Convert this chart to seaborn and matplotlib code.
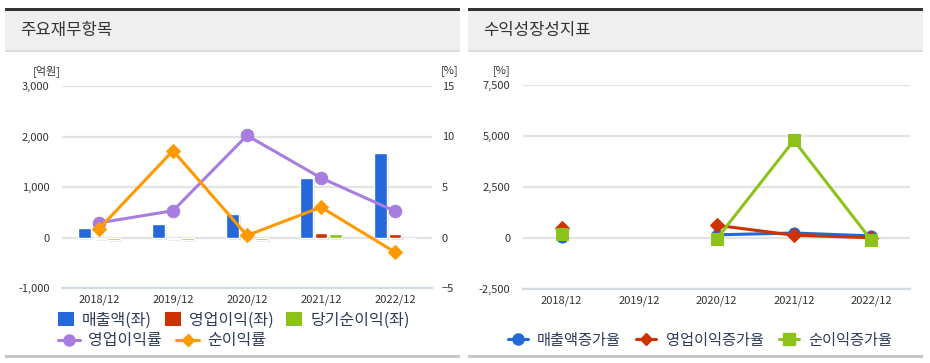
import numpy as np
import pandas as pd
import matplotlib
matplotlib.use("Agg")
import matplotlib.pyplot as plt
import seaborn as sns
from matplotlib.patches import Rectangle
from matplotlib.lines import Line2D
from matplotlib import patheffects as pe
from matplotlib.ticker import FuncFormatter, FixedLocator

# ---------------- data ----------------
periods = ["2018/12", "2019/12", "2020/12", "2021/12", "2022/12"]

bar_items = ["매출액(좌)", "영업이익(좌)", "당기순이익(좌)"]
revenue = [190, 270, 470, 1180, 1680]
op_income = [-35, -30, 60, 90, 60]
net_income = [-40, -40, -40, 60, 0]

line_items = ["영업이익률", "순이익률"]
op_margin = [1.45, 2.65, 10.1, 5.9, 2.6]
net_margin = [0.85, 8.6, 0.2, 3.0, -1.45]

growth_items = ["매출액증가율", "영업이익증가율", "순이익증가율"]
rev_growth = [30, np.nan, 130, 220, 80]
op_growth = [470, np.nan, 600, 110, -10]
net_growth = [190, np.nan, -80, 4760, -130]

left_ticks = [-1000, 0, 1000, 2000, 3000]
right_ticks = [-5, 0, 5, 10, 15]
growth_ticks = [-2500, 0, 2500, 5000, 7500]

# ---------------- style ----------------
sns.set_theme(style="white")
plt.rcParams["font.family"] = ["Noto Sans CJK KR", "DejaVu Sans"]

bar_colors = ["#2468d9", "#cc3300", "#8cc21a"]
line_colors = ["#a87de0", "#ff9900"]
growth_colors = ["#2468d9", "#cc3300", "#8cc21a"]
txt = "#333333"
legend_txt = "#2e3b5a"
grid_c = "#e3e3e3"
axis_c = "#d3dbe3"

W, H = 930, 363
fig = plt.figure(figsize=(W / 100, H / 100), dpi=100)

def fx(px):
    return px / W

def fy(py):
    return 1 - py / H

def rect(x0, y0, x1, y1, color):
    fig.add_artist(Rectangle((fx(x0), fy(y1)), fx(x1) - fx(x0), fy(y0) - fy(y1),
                             transform=fig.transFigure, facecolor=color,
                             edgecolor="none", zorder=0))

# panel headers
for (x0, x1, title) in [(5, 460, "주요재무항목"), (468, 923, "수익성장성지표")]:
    rect(x0, 11, x1, 50, "#efefef")
    rect(x0, 8, x1, 11, "#333333")
    rect(x0, 50, x1, 51.5, "#dcdcdc")
    rect(x0, 355, x1, 357.5, "#c6c6c6")
    fig.text(fx(x0 + 15), fy(31), title, fontsize=12, color=txt, va="center", ha="left")


def style_axis(ax):
    for s in ["top", "left", "right"]:
        ax.spines[s].set_visible(False)
    ax.spines["bottom"].set_color(axis_c)
    ax.spines["bottom"].set_linewidth(1.6)
    ax.set_xlim(-0.5, 4.5)
    ax.xaxis.set_major_locator(FixedLocator(range(5)))
    ax.set_xticklabels(periods)
    ax.xaxis.set_minor_locator(FixedLocator(np.arange(-0.5, 5.0, 1.0)))
    ax.tick_params(axis="x", which="major", length=0, pad=5, labelsize=8, labelcolor=txt)
    ax.tick_params(axis="x", which="minor", length=5, width=1.4, color=axis_c, direction="out")
    ax.grid(axis="y", color=grid_c, linewidth=1.6)
    ax.grid(axis="x", visible=False)
    ax.set_axisbelow(True)
    ax.set_xlabel("")
    ax.set_ylabel("")


# ---------------- left chart ----------------
ax = fig.add_axes([fx(62), fy(288), fx(432) - fx(62), fy(86) - fy(288)])
dfb = pd.DataFrame({
    "period": periods * 3,
    "item": sum([[it] * 5 for it in bar_items], []),
    "value": revenue + op_income + net_income,
})
sns.barplot(data=dfb, x="period", y="value", hue="item", order=periods,
            hue_order=bar_items, palette=bar_colors, saturation=1,
            width=0.58, gap=0.1, ax=ax, legend=False, errorbar=None)
for p in ax.patches:
    p.set_path_effects([pe.SimplePatchShadow(offset=(1.5, -1.5), shadow_rgbFace="#999999", alpha=0.22),
                        pe.Normal()])
ax.set_ylim(-1000, 3000)
ax.yaxis.set_major_locator(FixedLocator(left_ticks))
ax.yaxis.set_major_formatter(FuncFormatter(lambda v, p: f"{int(v):,}"))
ax.tick_params(axis="y", length=0, pad=9, labelsize=8, labelcolor=txt)
style_axis(ax)

ax2 = ax.twinx()
xs = np.arange(5)
dfl = pd.DataFrame({"x": list(xs) * 2,
                    "item": sum([[it] * 5 for it in line_items], []),
                    "value": op_margin + net_margin})
for it, col, mk, ms in zip(line_items, line_colors, ["o", "D"], [9, 7]):
    sns.lineplot(data=dfl[dfl["item"] == it], x="x", y="value", color=col,
                 marker=mk, markersize=ms, markeredgecolor=col, linewidth=2.2,
                 ax=ax2, legend=False, estimator=None)
ax2.set_ylim(-5, 15)
ax2.yaxis.set_major_locator(FixedLocator(right_ticks))
ax2.tick_params(axis="y", length=0, pad=7, labelsize=8, labelcolor=txt)
for s in ["top", "left", "right", "bottom"]:
    ax2.spines[s].set_visible(False)
ax2.set_ylabel("")
ax2.set_xlabel("")
ax2.grid(False)
ax2.set_xlim(-0.5, 4.5)

fig.text(fx(33), fy(71), "[억원]", fontsize=8, color=txt, va="center", ha="left")
fig.text(fx(441), fy(71), "[%]", fontsize=8, color=txt, va="center", ha="left")

# left legends
h1 = [Rectangle((0, 0), 1, 1, facecolor=c, edgecolor="none") for c in bar_colors]
leg1 = fig.legend(h1, bar_items, loc="center left", bbox_to_anchor=(fx(58), fy(320)),
                  ncol=3, frameon=False, fontsize=11.5, handlelength=1.0, handleheight=1.0,
                  handletextpad=0.5, columnspacing=0.8, borderaxespad=0, borderpad=0)
for t in leg1.get_texts():
    t.set_color(legend_txt)
h2 = [Line2D([0], [0], color=c, marker=m, markersize=ms, linewidth=2.2)
      for c, m, ms in zip(line_colors, ["o", "D"], [8, 6])]
leg2 = fig.legend(h2, line_items, loc="center left", bbox_to_anchor=(fx(58), fy(341)),
                  ncol=2, frameon=False, fontsize=11.5, handlelength=1.4,
                  handletextpad=0.5, columnspacing=0.9, borderaxespad=0, borderpad=0)
for t in leg2.get_texts():
    t.set_color(legend_txt)

# ---------------- right chart ----------------
axr = fig.add_axes([fx(523), fy(288.5), fx(910) - fx(523), fy(84.5) - fy(288.5)])
series = [rev_growth, op_growth, net_growth]
markers = ["o", "D", "s"]
msizes = [8, 7, 9]
for it, vals, col, mk, ms in zip(growth_items, series, growth_colors, markers, msizes):
    v = np.array(vals, dtype=float)
    seg = np.cumsum(np.isnan(v))
    dfg = pd.DataFrame({"x": xs, "value": v, "seg": seg})
    dfg = dfg.dropna()
    for s, g in dfg.groupby("seg"):
        sns.lineplot(data=g, x="x", y="value", color=col, marker=mk, markersize=ms,
                     markeredgecolor=col, linewidth=2.2, ax=axr, legend=False,
                     estimator=None)
axr.set_ylim(-2500, 7500)
axr.yaxis.set_major_locator(FixedLocator(growth_ticks))
axr.yaxis.set_major_formatter(FuncFormatter(lambda v, p: f"{int(v):,}"))
axr.tick_params(axis="y", length=0, pad=9, labelsize=8, labelcolor=txt)
style_axis(axr)
fig.text(fx(493), fy(71), "[%]", fontsize=8, color=txt, va="center", ha="left")

h3 = [Line2D([0], [0], color=c, marker=m, markersize=ms, linewidth=2.2)
      for c, m, ms in zip(growth_colors, markers, [8, 6, 8])]
leg3 = fig.legend(h3, growth_items, loc="center", bbox_to_anchor=(fx(700), fy(340)),
                  ncol=3, frameon=False, fontsize=11, handlelength=1.3,
                  handletextpad=0.6, columnspacing=1.0, borderaxespad=0, borderpad=0)
for t in leg3.get_texts():
    t.set_color(legend_txt)

fig.savefig("out.png", dpi=100)
